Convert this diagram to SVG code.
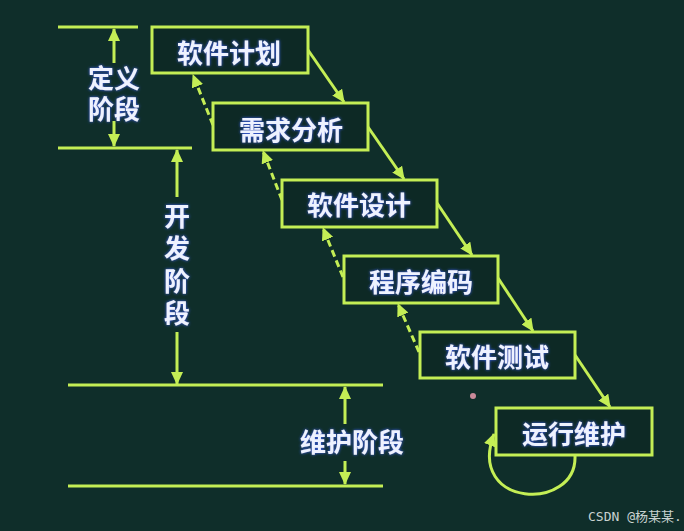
<svg xmlns="http://www.w3.org/2000/svg" width="684" height="531" viewBox="0 0 684 531">
<defs>
<style>
.bg{fill:#0f2e2a}
.box{fill:#0d2925;stroke:#c4ee55;stroke-width:3}
.ln{stroke:#c4ee55;stroke-width:3;fill:none}
.dash{stroke:#c4ee55;stroke-width:3;fill:none;stroke-dasharray:7 4}
.t{font-family:"Noto Sans CJK SC","Noto Sans",sans-serif;font-weight:bold;font-size:26px;fill:#eef2ff;text-anchor:middle;dominant-baseline:central;filter:url(#glow)}
.v{writing-mode:vertical-rl;letter-spacing:6.5px}
.wm{font-family:"DejaVu Sans Mono","Noto Sans CJK SC",monospace;font-size:13px;fill:#c8d2d0}
</style>
<filter id="glow" x="-30%" y="-30%" width="160%" height="160%">
<feDropShadow dx="0" dy="0" stdDeviation="1.4" flood-color="#3f63ff" flood-opacity="0.95"/>
</filter>
<marker id="ah" markerUnits="userSpaceOnUse" markerWidth="13" markerHeight="12" viewBox="0 0 13 12" refX="12" refY="6" orient="auto-start-reverse">
<path d="M0,0 L13,6 L0,12 z" fill="#c4ee55"/>
</marker>
</defs>
<rect class="bg" x="0" y="0" width="684" height="531"/>

<g id="phases">
<line class="ln" x1="58" y1="27" x2="138" y2="27"/>
<line class="ln" x1="58" y1="148" x2="192" y2="148"/>
<line class="ln" x1="114" y1="29" x2="114" y2="63" marker-start="url(#ah)"/>
<line class="ln" x1="114" y1="121" x2="114" y2="146" marker-end="url(#ah)"/>
<text class="t" x="114" y="76">定义<tspan x="114" dy="31">阶段</tspan></text>
<line class="ln" x1="177" y1="150" x2="177" y2="197" marker-start="url(#ah)"/>
<line class="ln" x1="177" y1="332" x2="177" y2="384" marker-end="url(#ah)"/>
<text class="t v" x="177" y="268">开发阶段</text>
<line class="ln" x1="68" y1="385" x2="383" y2="385"/>
<line class="ln" x1="68" y1="486" x2="383" y2="486"/>
<line class="ln" x1="345" y1="387" x2="345" y2="424" marker-start="url(#ah)"/>
<line class="ln" x1="345" y1="461" x2="345" y2="484" marker-end="url(#ah)"/>
<text class="t" x="352" y="440">维护阶段</text>
</g>

<g id="connectors">
<line class="ln" x1="308" y1="50" x2="344" y2="102" marker-end="url(#ah)"/>
<line class="ln" x1="368" y1="127" x2="404" y2="179" marker-end="url(#ah)"/>
<line class="ln" x1="437" y1="203" x2="472" y2="255" marker-end="url(#ah)"/>
<line class="ln" x1="498" y1="278" x2="533" y2="331" marker-end="url(#ah)"/>
<line class="ln" x1="575" y1="355" x2="610" y2="407" marker-end="url(#ah)"/>
<line class="dash" x1="213" y1="125" x2="193" y2="75" marker-end="url(#ah)"/>
<line class="dash" x1="282" y1="200" x2="263" y2="151" marker-end="url(#ah)"/>
<line class="dash" x1="343" y1="277" x2="323" y2="228" marker-end="url(#ah)"/>
<line class="dash" x1="419" y1="352" x2="398" y2="304" marker-end="url(#ah)"/>
<path class="ln" d="M575,456 C577,512 466,508 494,434" marker-end="url(#ah)"/>
</g>

<g id="n1"><rect class="box" x="152" y="27" width="156" height="46"/><text class="t" x="229" y="51">软件计划</text></g>
<g id="n2"><rect class="box" x="213" y="103" width="155" height="47"/><text class="t" x="291" y="128">需求分析</text></g>
<g id="n3"><rect class="box" x="282" y="180" width="155" height="47"/><text class="t" x="359" y="203">软件设计</text></g>
<g id="n4"><rect class="box" x="344" y="256" width="154" height="47"/><text class="t" x="421" y="280">程序编码</text></g>
<g id="n5"><rect class="box" x="420" y="332" width="155" height="46"/><text class="t" x="497" y="355">软件测试</text></g>
<g id="n6"><rect class="box" x="496" y="408" width="156" height="47"/><text class="t" x="574" y="432">运行维护</text></g>

<circle cx="473" cy="396" r="3" fill="#c98a9a"/>
<text class="wm" x="588" y="521">CSDN @杨某某.</text>
</svg>
